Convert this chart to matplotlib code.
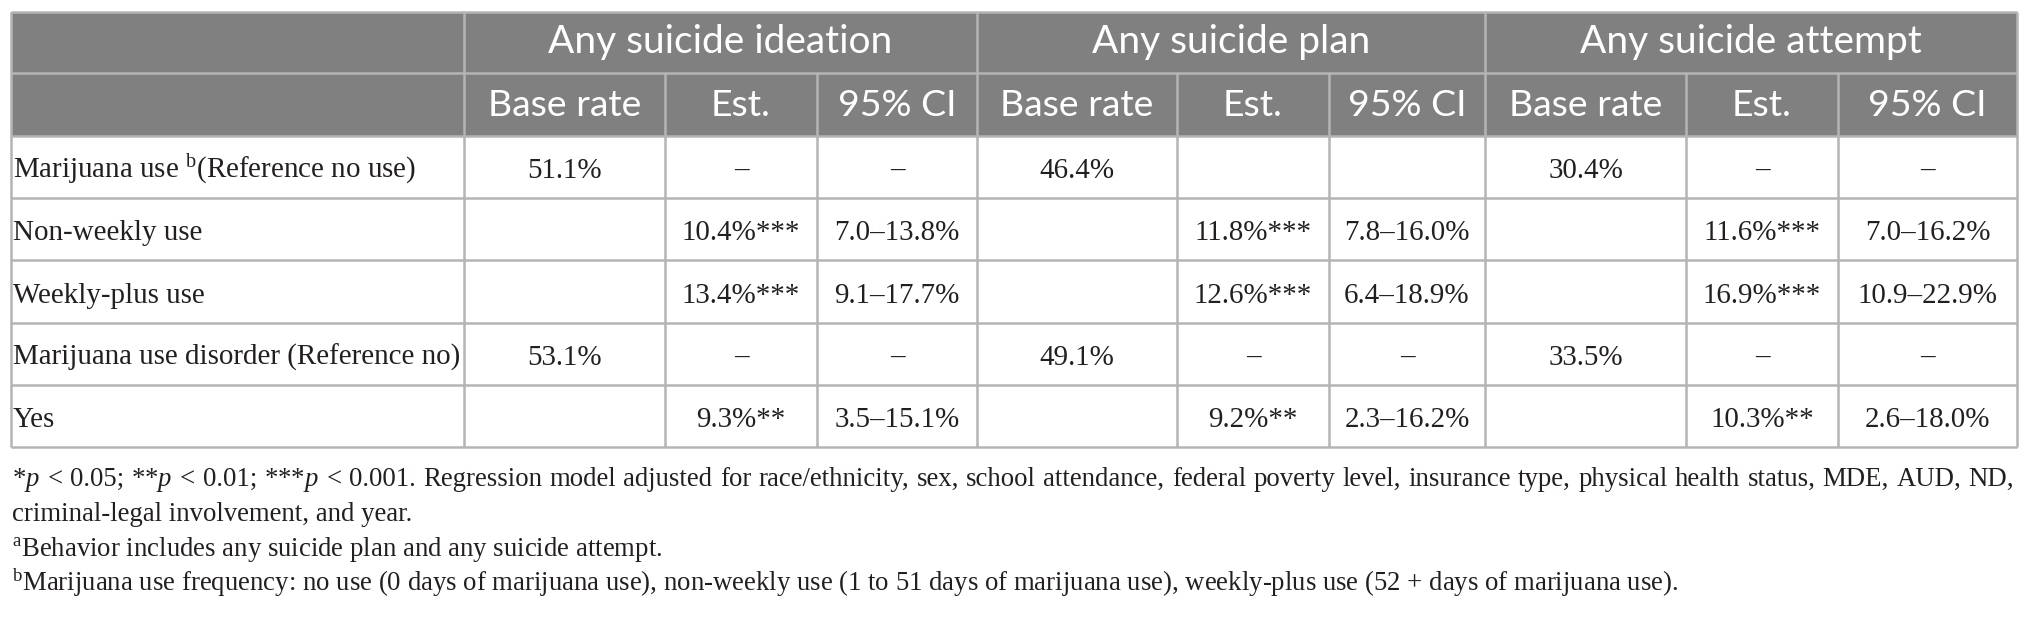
import matplotlib
matplotlib.use("Agg")
import matplotlib.pyplot as plt
from matplotlib.patches import Rectangle

plt.rcParams["mathtext.fontset"] = "custom"
plt.rcParams["mathtext.rm"] = "Liberation Serif"
plt.rcParams["mathtext.it"] = "Liberation Serif:italic"
plt.rcParams["mathtext.bf"] = "Liberation Serif:bold"

# ---------------- data ----------------
outcomes = ["Any suicide ideation", "Any suicide plan", "Any suicide attempt"]
sub_headers = ["Base rate", "Est.", "95% CI"]
row_labels = [
    "Marijuana use $^{\\mathrm{b}}$(Reference no use)",
    "Non-weekly use",
    "Weekly-plus use",
    "Marijuana use disorder (Reference no)",
    "Yes",
]

ideation_base = [51.1, None, None, 53.1, None]
ideation_est = [None, 10.4, 13.4, None, 9.3]
ideation_stars = ["", "***", "***", "", "**"]
ideation_ci_lo = [None, 7.0, 9.1, None, 3.5]
ideation_ci_hi = [None, 13.8, 17.7, None, 15.1]
ideation_ref = ["–", "", "", "–", ""]

plan_base = [46.4, None, None, 49.1, None]
plan_est = [None, 11.8, 12.6, None, 9.2]
plan_stars = ["", "***", "***", "", "**"]
plan_ci_lo = [None, 7.8, 6.4, None, 2.3]
plan_ci_hi = [None, 16.0, 18.9, None, 16.2]
plan_ref = ["", "", "", "–", ""]

attempt_base = [30.4, None, None, 33.5, None]
attempt_est = [None, 11.6, 16.9, None, 10.3]
attempt_stars = ["", "***", "***", "", "**"]
attempt_ci_lo = [None, 7.0, 10.9, None, 2.6]
attempt_ci_hi = [None, 16.2, 22.9, None, 18.0]
attempt_ref = ["–", "", "", "–", ""]

footnotes = [
    "*$p$ < 0.05; **$p$ < 0.01; ***$p$ < 0.001. Regression model adjusted for race/ethnicity, sex, school attendance, federal poverty level, insurance type, physical health status, MDE, AUD, ND,",
    "criminal-legal involvement, and year.",
    "$^{\\mathrm{a}}$Behavior includes any suicide plan and any suicide attempt.",
    "$^{\\mathrm{b}}$Marijuana use frequency: no use (0 days of marijuana use), non-weekly use (1 to 51 days of marijuana use), weekly-plus use (52 + days of marijuana use).",
]
justified = [True, False, False, False]

# ---------------- layout ----------------
W, H = 2029, 618
col_x = [11, 464, 665, 817, 977, 1177, 1329, 1485, 1686, 1838, 2017]
group_x = [11, 464, 977, 1485, 2017]
row_y = [12, 73, 136, 198, 260, 323, 385, 447]
fn_baselines = [486, 521, 556, 591]
fn_left, fn_right = 12, 2014

HEADER_BG = "#808080"
LINE = "#b4b4b4"
TEXT = "#231f20"

fig = plt.figure(figsize=(W / 100, H / 100), dpi=100)
ax = fig.add_axes([0, 0, 1, 1])
ax.set_xlim(0, W)
ax.set_ylim(H, 0)
ax.axis("off")
renderer = fig.canvas.get_renderer()


def width_of(s, family, size):
    t = ax.text(0, 0, s, family=family, fontsize=size)
    w = t.get_window_extent(renderer).width
    t.remove()
    return w


def fitted(s, family, target, base=20.0):
    return base * target / width_of(s, family, base)


body_fs = fitted("Marijuana use disorder (Reference no)", "Liberation Serif", 448)
h1_fs = fitted("Any suicide ideation", "Lato", 345)
h2_fs = fitted("Base rate", "Lato", 154)
fn_fs = fitted(footnotes[3], "Liberation Serif", 1667)

# header background
ax.add_patch(Rectangle((col_x[0], row_y[0]), col_x[-1] - col_x[0], row_y[2] - row_y[0],
                       facecolor=HEADER_BG, edgecolor="none", zorder=0))

lw = 1.8
for y in row_y:
    ax.plot([col_x[0], col_x[-1]], [y, y], color=LINE, lw=lw, solid_capstyle="butt", zorder=2)
for x in group_x:
    ax.plot([x, x], [row_y[0], row_y[1]], color=LINE, lw=lw, solid_capstyle="butt", zorder=2)
for x in col_x:
    ax.plot([x, x], [row_y[1], row_y[-1]], color=LINE, lw=lw, solid_capstyle="butt", zorder=2)


def baseline(r):
    return row_y[r] + 0.68 * (row_y[r + 1] - row_y[r])


# header texts
for g, name in enumerate(outcomes):
    cx = (group_x[g + 1] + group_x[g + 2]) / 2
    ax.text(cx, baseline(0), name, family="Lato", fontsize=h1_fs, color="white",
            ha="center", va="baseline", zorder=3)
    for k, sh in enumerate(sub_headers):
        c = 1 + 3 * g + k
        ax.text((col_x[c] + col_x[c + 1]) / 2, baseline(1), sh, family="Lato",
                fontsize=h2_fs, color="white", ha="center", va="baseline", zorder=3)

# body
series = [
    (ideation_base, ideation_est, ideation_stars, ideation_ci_lo, ideation_ci_hi, ideation_ref),
    (plan_base, plan_est, plan_stars, plan_ci_lo, plan_ci_hi, plan_ref),
    (attempt_base, attempt_est, attempt_stars, attempt_ci_lo, attempt_ci_hi, attempt_ref),
]

for i, lab in enumerate(row_labels):
    r = i + 2
    ax.text(col_x[0] + 2, baseline(r), lab, family="Liberation Serif", fontsize=body_fs,
            color=TEXT, ha="left", va="baseline", zorder=3)
    for g, (base, est, stars, lo, hi, ref) in enumerate(series):
        cells = []
        cells.append("" if base[i] is None else f"{base[i]:.1f}%")
        cells.append(ref[i] if est[i] is None else f"{est[i]:.1f}%{stars[i]}")
        cells.append(ref[i] if lo[i] is None else f"{lo[i]:.1f}–{hi[i]:.1f}%")
        for k, s in enumerate(cells):
            if not s:
                continue
            c = 1 + 3 * g + k
            ax.text((col_x[c] + col_x[c + 1]) / 2, baseline(r), s, family="Liberation Serif",
                    fontsize=body_fs, color=TEXT, ha="center", va="baseline", zorder=3)

# footnotes
for yb, s, just in zip(fn_baselines, footnotes, justified):
    if not just:
        ax.text(fn_left, yb, s, family="Liberation Serif", fontsize=fn_fs, color=TEXT,
                ha="left", va="baseline", zorder=3)
        continue
    words = s.split(" ")
    widths = [width_of(w, "Liberation Serif", fn_fs) for w in words]
    gap = (fn_right - fn_left - sum(widths)) / (len(words) - 1)
    x = fn_left
    for w, wd in zip(words, widths):
        ax.text(x, yb, w, family="Liberation Serif", fontsize=fn_fs, color=TEXT,
                ha="left", va="baseline", zorder=3)
        x += wd + gap

fig.savefig("out.png", dpi=100, facecolor="white")
